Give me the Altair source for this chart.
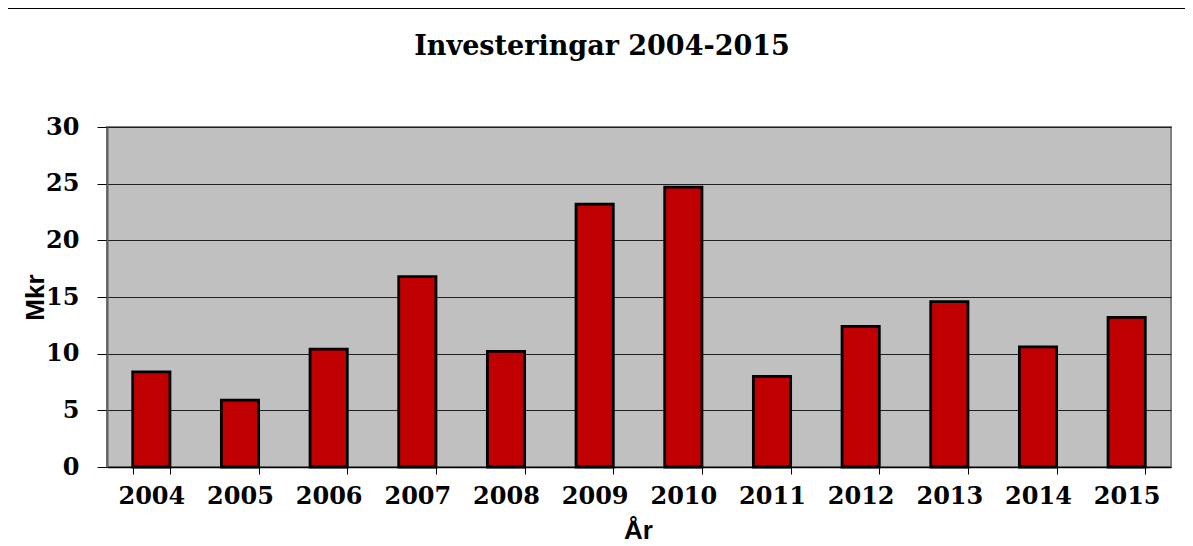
import altair as alt
import pandas as pd

years = ["2004", "2005", "2006", "2007", "2008", "2009", "2010", "2011", "2012", "2013", "2014", "2015"]
values = [8.4, 5.9, 10.4, 16.8, 10.2, 23.2, 24.7, 8.0, 12.4, 14.6, 10.6, 13.2]
y_ticks = [0, 5, 10, 15, 20, 25, 30]

df = pd.DataFrame({"År": years, "Mkr": values})

W, H = 1064, 340
PAD = {"left": 99, "top": 119, "right": 14, "bottom": 79}

frame = alt.Chart(df).mark_rect(filled=False, stroke="#000000", strokeWidth=1).encode(
    x=alt.value(-99.5), x2=alt.value(W + 40),
    y=alt.value(-118.5), y2=alt.value(H + 200),
)

bars = alt.Chart(df).mark_bar(
    color="#C00000", stroke="#000000", strokeWidth=2.8, strokeJoin="miter"
).encode(
    x=alt.X("År:N", sort=years,
            scale=alt.Scale(paddingInner=0.58, paddingOuter=0.29),
            axis=alt.Axis(title="År", labelAngle=0, tickBand="extent",
                          tickSize=7, tickColor="#000000", domainColor="#000000",
                          domainWidth=1.5, labelFont="DejaVu Serif", labelFontWeight="bold",
                          labelFontSize=24, labelColor="#000000", labelPadding=10,
                          titleFont="Liberation Sans", titleFontWeight="bold", titleFontSize=26,
                          titleColor="#000000", titleX=531, titleY=71,
                          titleBaseline="alphabetic", titleAnchor="middle")),
    y=alt.Y("Mkr:Q", scale=alt.Scale(domain=[0, 30], nice=False),
            axis=alt.Axis(title="Mkr", values=y_ticks, grid=True, gridColor="#202020",
                          gridWidth=1, tickSize=10, tickColor="#000000",
                          domainColor="#606060", domainWidth=2,
                          labelFont="DejaVu Serif", labelFontWeight="bold", labelFontSize=24,
                          labelColor="#000000", labelPadding=18,
                          titleFont="Liberation Sans", titleFontWeight="bold", titleFontSize=26,
                          titleColor="#000000", titleAngle=-90, titleX=-64, titleY=170,
                          titleBaseline="alphabetic", titleAnchor="middle")),
)

chart = alt.layer(frame, bars).properties(
    width=W, height=H,
    autosize=alt.AutoSizeParams(type="none"),
    padding=PAD,
    title=alt.TitleParams("Investeringar 2004-2015", font="DejaVu Serif", fontWeight="bold",
                          fontSize=27, color="#000000", anchor="middle", frame="group",
                          dx=-37, baseline="alphabetic", offset=-74),
).configure(
    background="#FFFFFF"
).configure_view(
    fill="#C0C0C0", stroke="#808080", strokeWidth=2
)

chart.save("out.html", embed_options={"renderer": "svg", "actions": False})
